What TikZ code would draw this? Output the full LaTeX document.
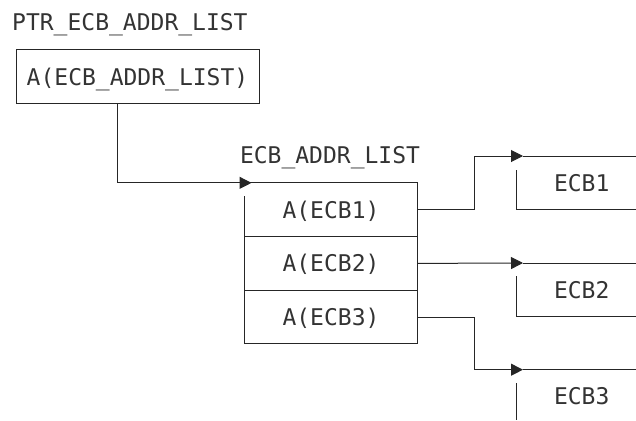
\documentclass[tikz,border=0pt]{standalone}
\usepackage{fontspec}
\setmonofont{DejaVu Sans Mono}
\usetikzlibrary{arrows.meta,positioning}

\begin{document}
\begin{tikzpicture}[x=1pt,y=-1pt,>={Triangle[length=12pt,width=12pt]},
    every node/.style={font=\ttfamily\fontsize{23}{28}\selectfont,text=black!80,
        inner sep=0pt,text height=17pt,text depth=0pt},
    line/.style={line width=1pt,draw=black!85},
    cell/.style={minimum width=172pt,minimum height=53.3pt}]
    \useasboundingbox (0,0) rectangle (636,420);

    % Pointer field
    \node[anchor=west] (ptrname) at (12,22) {PTR\_ECB\_ADDR\_LIST};
    \node[line,draw,minimum width=243pt,minimum height=53pt] (ptr) at (137.5,76.5) {A(ECB\_ADDR\_LIST)};

    % Address list
    \node[cell] (row1) at (331,209.7) {A(ECB1)};
    \node[cell,below=0pt of row1] (row2) {A(ECB2)};
    \node[cell,below=0pt of row2] (row3) {A(ECB3)};
    \node[anchor=west] (listname) at ([xshift=-5pt,yshift=28pt]row1.north west) {ECB\_ADDR\_LIST};
    \draw[line] ([yshift=-13.5pt]row1.north west) -- (row3.south west) -- (row3.south east)
        -- (row1.north east) -- (row1.north west);
    \draw[line] (row1.south west) -- (row1.south east);
    \draw[line] (row2.south west) -- (row2.south east);

    % Pointer to list
    \coordinate (inlist) at ([xshift=6.7pt]row1.north west);
    \draw[line,->] ([xshift=-20.5pt]ptr.south) |- (inlist);

    % ECBs
    \coordinate (in1) at (523,156);
    \coordinate (in2) at (523,263);
    \coordinate (in3) at (523,369.7);
    \node (ecb1) at (581.7,182.7) {ECB1};
    \node (ecb2) at (581.7,289.5) {ECB2};
    \node (ecb3) at (581.7,396) {ECB3};

    \draw[line] (in1) -- (636,156);
    \draw[line] ([xshift=-6.3pt,yshift=-14pt]in1) -- ++(0,39.7) -- (636,209.7);
    \draw[line] (in2) -- (636,263);
    \draw[line] ([xshift=-6.3pt,yshift=-13pt]in2) -- ++(0,40) -- (636,316);
    \draw[line] (in3) -- (636,369.7);
    \draw[line] ([xshift=-6.3pt,yshift=-13.5pt]in3) -- (516.7,420);

    % List entries to ECBs
    \draw[line,->] (row1.east) -- ++(57,0) |- (in1);
    \draw[line,->] (row2.east) -- (in2);
    \draw[line,->] (row3.east) -- ++(57,0) |- (in3);
\end{tikzpicture}
\end{document}
